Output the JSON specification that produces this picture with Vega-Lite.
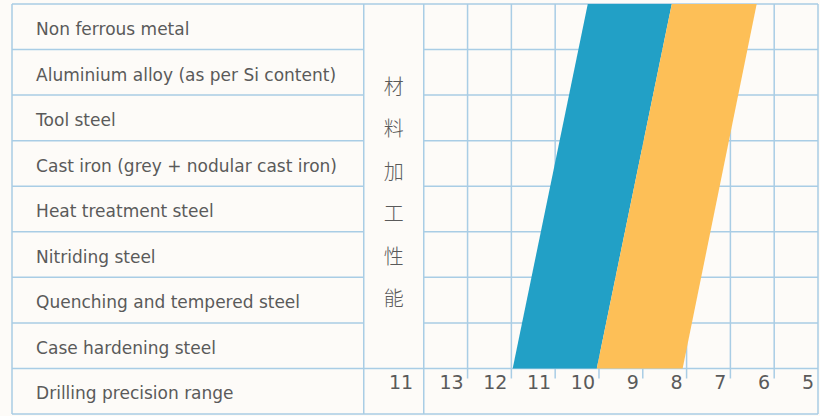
{
  "$schema": "https://vega.github.io/schema/vega-lite/v6.json",
  "width": 806,
  "height": 410,
  "autosize": {"type": "none"},
  "padding": {"left": 12, "top": 4, "right": 2, "bottom": 2},
  "background": "#fdfbf8",
  "config": {"view": {"stroke": null}},
  "datasets": {
    "hlines": [
      {"y": 0, "from": 23.4, "to": 5},
      {"y": 1, "from": 23.4, "to": 15.37}, {"y": 1, "from": 14, "to": 5},
      {"y": 2, "from": 23.4, "to": 15.37}, {"y": 2, "from": 14, "to": 5},
      {"y": 3, "from": 23.4, "to": 15.37}, {"y": 3, "from": 14, "to": 5},
      {"y": 4, "from": 23.4, "to": 15.37}, {"y": 4, "from": 14, "to": 5},
      {"y": 5, "from": 23.4, "to": 15.37}, {"y": 5, "from": 14, "to": 5},
      {"y": 6, "from": 23.4, "to": 15.37}, {"y": 6, "from": 14, "to": 5},
      {"y": 7, "from": 23.4, "to": 15.37}, {"y": 7, "from": 14, "to": 5},
      {"y": 8, "from": 23.4, "to": 5},
      {"y": 9, "from": 23.4, "to": 5}
    ],
    "vlines": [
      {"x": 23.4, "top": 0, "bottom": 9},
      {"x": 15.37, "top": 0, "bottom": 9},
      {"x": 14, "top": 0, "bottom": 9},
      {"x": 13, "top": 0, "bottom": 8.22},
      {"x": 12, "top": 0, "bottom": 8.22},
      {"x": 11, "top": 0, "bottom": 8.22},
      {"x": 10, "top": 0, "bottom": 8.22},
      {"x": 9, "top": 0, "bottom": 8.22},
      {"x": 8, "top": 0, "bottom": 8.22},
      {"x": 7, "top": 0, "bottom": 8.22},
      {"x": 6, "top": 0, "bottom": 8.22},
      {"x": 5, "top": 0, "bottom": 9}
    ],
    "bands": [
      {"band": "blue", "y": 0, "left": 10.256, "right": 8.338},
      {"band": "blue", "y": 8, "left": 11.97, "right": 10.05},
      {"band": "orange", "y": 0, "left": 8.338, "right": 6.4},
      {"band": "orange", "y": 8, "left": 10.05, "right": 8.09}
    ],
    "rows": [
      {"row": 0, "label": "Non ferrous metal"},
      {"row": 1, "label": "Aluminium alloy (as per Si content)"},
      {"row": 2, "label": "Tool steel"},
      {"row": 3, "label": "Cast iron (grey + nodular cast iron)"},
      {"row": 4, "label": "Heat treatment steel"},
      {"row": 5, "label": "Nitriding steel"},
      {"row": 6, "label": "Quenching and tempered steel"},
      {"row": 7, "label": "Case hardening steel"},
      {"row": 8, "label": "Drilling precision range"}
    ],
    "grades": [
      {"grade": 14.15, "label": "11"},
      {"grade": 13, "label": "13"},
      {"grade": 12, "label": "12"},
      {"grade": 11, "label": "11"},
      {"grade": 10, "label": "10"},
      {"grade": 9, "label": "9"},
      {"grade": 8, "label": "8"},
      {"grade": 7, "label": "7"},
      {"grade": 6, "label": "6"},
      {"grade": 5, "label": "5"}
    ],
    "vertical": [
      {"text": "材\n料\n加\n工\n性\n能", "x": 14.685, "y": 1.844}
    ]
  },
  "layer": [
    {
      "data": {"name": "hlines"},
      "mark": {"type": "rule", "color": "#a9cde5", "strokeWidth": 1.5},
      "encoding": {
        "y": {"field": "y", "type": "quantitative", "scale": {"domain": [0, 9], "reverse": true, "nice": false, "zero": false}, "axis": null},
        "x": {"field": "from", "type": "quantitative", "scale": {"domain": [5, 23.4], "reverse": true, "nice": false, "zero": false}, "axis": null},
        "x2": {"field": "to"}
      }
    },
    {
      "data": {"name": "vlines"},
      "mark": {"type": "rule", "color": "#a9cde5", "strokeWidth": 1.5},
      "encoding": {
        "x": {"field": "x", "type": "quantitative"},
        "y": {"field": "top", "type": "quantitative"},
        "y2": {"field": "bottom"}
      }
    },
    {
      "data": {"name": "bands"},
      "mark": {"type": "area", "orient": "horizontal"},
      "encoding": {
        "y": {"field": "y", "type": "quantitative"},
        "x": {"field": "left", "type": "quantitative", "stack": null},
        "x2": {"field": "right"},
        "color": {"field": "band", "type": "nominal", "scale": {"domain": ["blue", "orange"], "range": ["#22a0c6", "#fdbf57"]}, "legend": null}
      }
    },
    {
      "data": {"name": "rows"},
      "mark": {"type": "text", "align": "left", "baseline": "alphabetic", "dy": 31, "font": "DejaVu Sans", "fontSize": 17, "color": "#5a5a5a"},
      "encoding": {
        "x": {"datum": 22.85, "type": "quantitative"},
        "y": {"field": "row", "type": "quantitative"},
        "text": {"field": "label"}
      }
    },
    {
      "data": {"name": "grades"},
      "mark": {"type": "text", "align": "right", "baseline": "alphabetic", "dx": -4, "dy": 21, "font": "DejaVu Sans", "fontSize": 19, "color": "#5a5a5a"},
      "encoding": {
        "x": {"field": "grade", "type": "quantitative"},
        "y": {"datum": 8, "type": "quantitative"},
        "text": {"field": "label"}
      }
    },
    {
      "data": {"name": "vertical"},
      "mark": {"type": "text", "align": "center", "baseline": "middle", "lineBreak": "\n", "lineHeight": 42.4, "font": "Noto Sans CJK SC", "fontSize": 20, "fontWeight": 300, "color": "#5a5a5a"},
      "encoding": {
        "x": {"field": "x", "type": "quantitative"},
        "y": {"field": "y", "type": "quantitative"},
        "text": {"field": "text"}
      }
    }
  ]
}
